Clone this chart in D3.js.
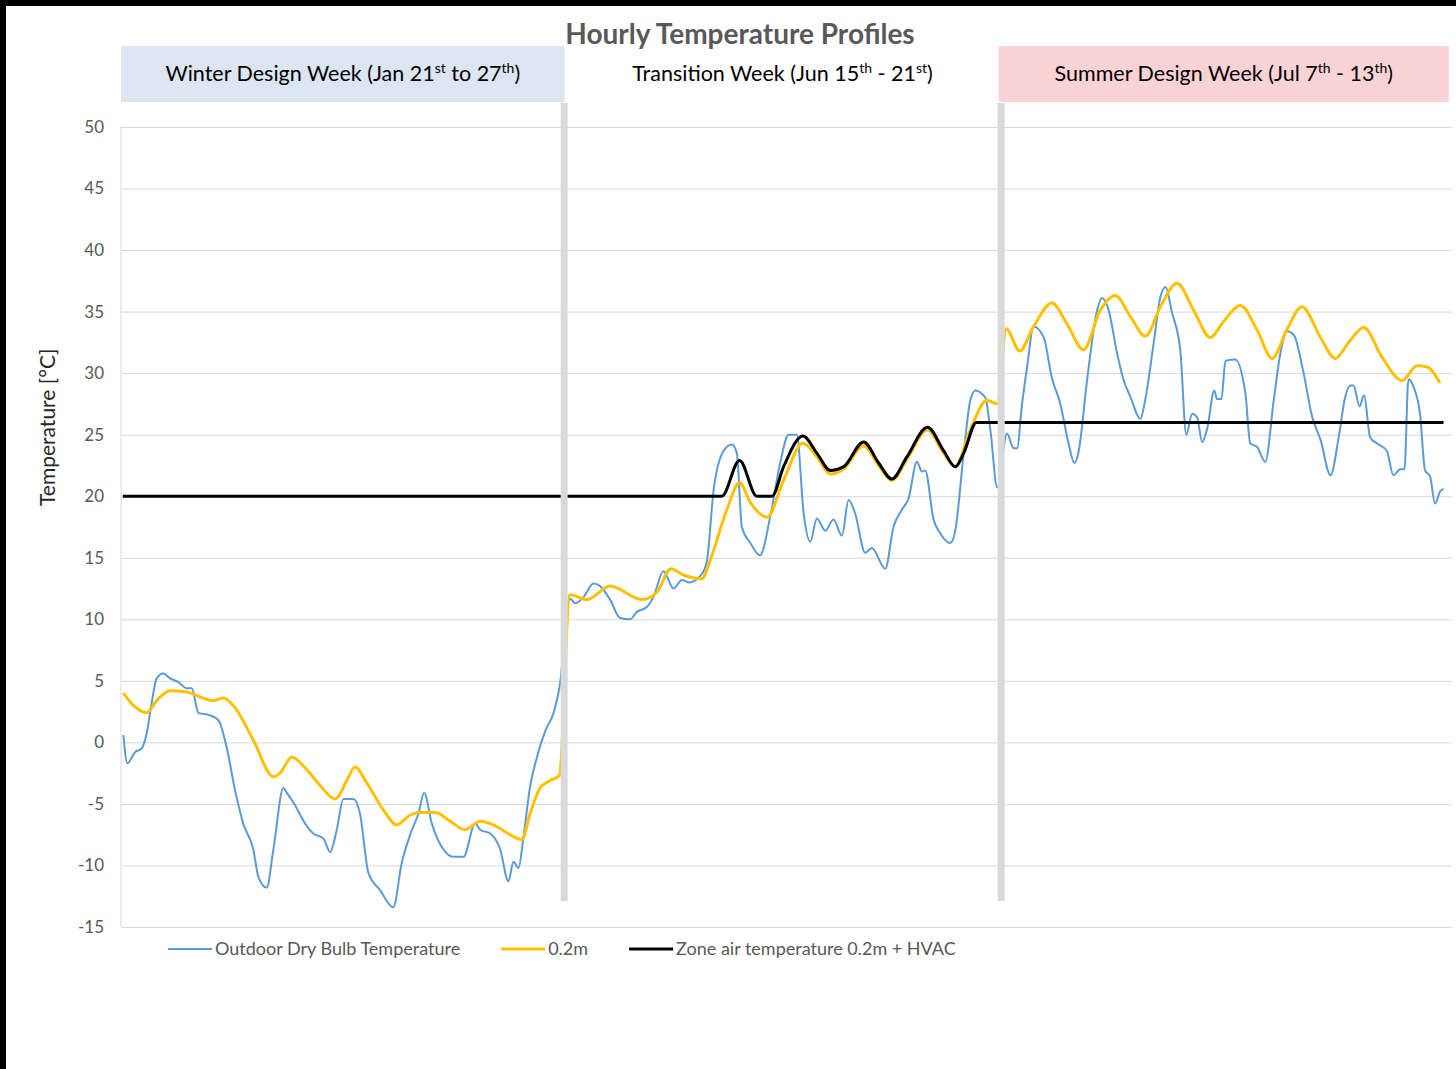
<!DOCTYPE html>
<html>
<head>
<meta charset="utf-8">
<script src="https://cdn.jsdelivr.net/npm/d3@7"></script>
<style>
  html, body { margin: 0; padding: 0; background: #fff; }
  svg { display: block; }
  text { font-family: Lato, "Liberation Sans Narrow", "Noto Sans", sans-serif; }
</style>
</head>
<body>
<div id="chart"></div>
<script>
// hours counted from the start of the winter week (3 weeks x 168 h)
const outdoorDryBulb = [
  [0.9,0.6],[2.4,-1.7],[5.3,-0.8],[7.8,-0.5],[9.7,0.7],[11.6,3.2],[13.5,5.2],[16,5.6],[18.6,5.2],[21.7,4.9],
  [24.9,4.4],[26.8,4.4],[29.3,2.4],[33.7,2.2],[36.9,1.8],[40,-0.4],[43.2,-3.9],[46.3,-6.6],[50.1,-8.7],[52,-10.9],
  [55.2,-11.8],[57.7,-8.7],[61.5,-3.7],[62.8,-4.1],[65.9,-5.1],[69.7,-6.6],[72.8,-7.4],[76.6,-7.8],[79.2,-8.9],[81.7,-7.1],
  [84.2,-4.6],[88,-4.6],[90.5,-5.8],[93.7,-10.6],[98.1,-12.0],[103.1,-13.4],[106.3,-9.8],[109.5,-7.5],[112.6,-5.8],[114.8,-4.1],
  [117.7,-6.6],[122.1,-8.7],[125.9,-9.3],[129.7,-9.3],[134.1,-6.6],[136,-7.1],[139.8,-7.4],[143.6,-8.7],[146.7,-11.3],[148.6,-9.7],
  [150.5,-10.2],[152.4,-7.7],[154.9,-3.6],[157.5,-1.2],[160.6,0.9],[163.8,2.4],[166,4.4],
  [170,11.7],[172,11.3],[175.1,11.8],[178.9,12.9],[181.4,12.7],[185.2,11.6],[189,10.1],[192.8,10.0],[195.3,10.6],[199.1,11.0],
  [201.6,11.8],[205.4,13.9],[209.2,12.5],[212.4,13.2],[215,13.0],[220,13.7],[221.9,14.8],[224.4,20.5],[228.2,23.7],[231.3,24.2],
  [233.2,23.5],[235.1,17.5],[238.3,16.2],[242,15.2],[245.8,18.3],[249.6,22.7],[252.8,25.0],[255.9,25.0],[258.5,18.6],[261,16.3],
  [263.5,18.2],[266.7,17.2],[269.8,18.1],[273,16.8],[275.5,19.7],[278,18.6],[281.8,15.4],[284.3,15.8],[289.4,14.1],[292.5,17.5],
  [295.7,18.9],[298.2,19.8],[301.4,22.8],[303.3,22.0],[304.5,22.1],[307.7,18.1],[310.2,17.0],[314,16.2],[315.9,17.2],[319.1,23.5],
  [321.6,27.8],[323.5,28.6],[327.3,28.0],[329.2,25.4],[331.8,20.7],
  [335.5,25.1],[338,23.9],[339.3,23.9],[341.2,27.5],[343.1,30.5],[345.6,33.8],[349.4,32.9],[352.5,29.6],[355.7,27.5],[358.8,24.3],
  [361,22.7],[362.6,23.6],[365.8,29.4],[369.6,35.1],[371.5,36.1],[374,35.1],[377.2,31.6],[379.7,29.4],[382.2,28.1],[386,26.3],
  [387.9,27.9],[391,32.4],[393.6,36.2],[395.5,37.0],[398,34.9],[401.1,31.9],[403.4,25.0],[405.6,26.7],[407.5,26.4],[409.4,24.4],
  [411.3,25.5],[414,28.6],[415,27.9],[416.7,27.9],[418.2,31.0],[421.9,31.1],[425.8,28.3],[427.6,24.3],[430.2,24.0],[433.3,22.8],
  [436.5,27.8],[439,31.6],[441.6,33.4],[444.1,33.1],[447.8,30.0],[451,26.5],[454.2,24.6],[458,21.7],[461.1,24.8],[463.6,28.1],
  [465.5,29.0],[466.7,29.0],[469,27.3],[470.7,28.2],[473,24.8],[475.5,24.3],[479.3,23.7],[481.8,21.7],[484.4,22.2],[486,22.2],
  [487.5,29.5],[489.4,28.9],[491.9,26.7],[493.8,22.1],[495.7,21.6],[497.6,19.4],[499.5,20.4],[500.8,20.6]
];

const zone02m = [
  [0.9,4.0],[4.7,3.0],[9.7,2.4],[13.5,3.4],[18.6,4.2],[24.9,4.1],[29.9,3.7],[35,3.4],[38.8,3.6],[42.5,3.0],
  [50.1,0.2],[57.7,-2.8],[60.2,-2.5],[64.7,-1.2],[70.3,-2.2],[75.4,-3.5],[81.1,-4.6],[85.5,-3.1],[88.6,-2.0],[93.1,-3.3],
  [99.4,-5.5],[104.4,-6.7],[109.5,-5.9],[113.3,-5.7],[119,-5.7],[124.6,-6.4],[130.3,-7.1],[136,-6.4],[141,-6.7],[147.3,-7.5],
  [151.8,-7.9],[154.9,-5.8],[158.7,-3.7],[162.5,-3.1],[166,-2.7],
  [170,12.0],[176.4,11.6],[185.2,12.7],[197.2,11.6],[202.9,12.2],[208.2,14.1],[213,13.6],[220,13.3],[223.1,14.8],[229.4,18.9],
  [234.2,21.1],[238.3,19.5],[244.6,18.3],[250.9,21.3],[258.2,24.3],[263.5,23.2],[268.6,21.8],[273.6,22.2],[281.2,24.1],[286.9,22.5],
  [291.9,21.3],[297.6,23.0],[305.4,25.4],[311.5,23.5],[315.9,22.4],[321.6,25.4],[327.9,27.8],[331.8,27.5],
  [335.2,33.6],[340.3,31.8],[345.6,33.8],[352.5,35.7],[358.2,34.0],[364.5,31.9],[370.8,35.1],[376.5,36.3],[382.2,34.6],[387.9,33.0],
  [393.6,35.4],[399.9,37.3],[406.2,35.1],[412.5,32.9],[417.5,34.2],[423.9,35.5],[430.2,33.5],[435.9,31.2],[441.6,33.6],[447.2,35.4],
  [454.2,32.9],[459.8,31.2],[464.9,32.5],[470.6,33.7],[477.5,31.3],[485.1,29.4],[490.8,30.6],[494.6,30.5],[499.4,29.2]
];

const zoneHvac = [
  [0.7,20],[227.5,20],[234.2,22.9],[240.8,20],[246.5,20],[250.9,22.4],[258.2,24.9],[263.5,23.5],[268.6,22.1],[273.6,22.4],
  [281.2,24.4],[286.9,22.7],[291.9,21.4],[297.6,23.2],[305.4,25.6],[311.5,23.7],[315.9,22.4],[319.1,23.5],[323.9,26.0],[500.8,26]
];

const weekBreaks = [167.8, 333.3];
const yTicks = [-15, -10, -5, 0, 5, 10, 15, 20, 25, 30, 35, 40, 45, 50];

const weekHeaders = [
  { from: 0, to: 168, fill: '#dce6f2', parts: [['Winter Design Week (Jan 21'], ['st', 1], [' to 27'], ['th', 1], [')']] },
  { from: 168, to: 333, fill: null, parts: [['Transition Week (Jun 15'], ['th', 1], [' - 21'], ['st', 1], [')']] },
  { from: 332.4, to: 502.8, fill: '#fbd3d5', parts: [['Summer Design Week (Jul 7'], ['th', 1], [' - 13'], ['th', 1], [')']] }
];

const series = [
  { name: 'Outdoor Dry Bulb Temperature', data: outdoorDryBulb, color: '#5b9bd5', width: 2 },
  { name: '0.2m', data: zone02m, color: '#ffc000', width: 3 },
  { name: 'Zone air temperature 0.2m + HVAC', data: zoneHvac, color: '#000000', width: 3 }
];

const W = 1456, H = 1069;
const margin = { left: 121, right: 4, top: 127, bottom: 142 };

const svg = d3.select('#chart').append('svg')
  .attr('width', W)
  .attr('height', H);

// dark frame left/top as in the screenshot
svg.append('rect').attr('x', 0).attr('y', 0).attr('width', W).attr('height', 6).attr('fill', '#000');
svg.append('rect').attr('x', 0).attr('y', 0).attr('width', 6).attr('height', H).attr('fill', '#000');

const x = d3.scaleLinear().domain([0, 504]).range([margin.left, W - margin.right]);
const y = d3.scaleLinear().domain([-15, 50]).range([H - margin.bottom, margin.top]);

// gridlines
svg.append('g')
  .attr('transform', `translate(${margin.left},0)`)
  .call(d3.axisLeft(y).tickValues(yTicks).tickSize(-(x.range()[1] - margin.left)).tickFormat(''))
  .call(g => g.select('.domain').remove())
  .call(g => g.selectAll('line').attr('stroke', '#d9d9d9').attr('stroke-width', 1));

// y axis line and labels
svg.append('line')
  .attr('x1', margin.left).attr('x2', margin.left)
  .attr('y1', y(50)).attr('y2', y(-15))
  .attr('stroke', '#d9d9d9');

svg.append('g')
  .attr('transform', `translate(${margin.left},0)`)
  .call(d3.axisLeft(y).tickValues(yTicks).tickSize(0).tickPadding(17).tickFormat(d => String(d)))
  .call(g => g.select('.domain').remove())
  .call(g => g.selectAll('text')
    .attr('fill', '#595959')
    .style('font-size', '17px'));

svg.append('text')
  .attr('transform', `translate(55,${y(25.6)}) rotate(-90)`)
  .attr('text-anchor', 'middle')
  .attr('fill', '#262626')
  .style('font-size', '21px')
  .text('Temperature [°C]');

// title
svg.append('text')
  .attr('x', 740)
  .attr('y', 44)
  .attr('text-anchor', 'middle')
  .attr('fill', '#595959')
  .style('font-size', '28px')
  .style('font-weight', 'bold')
  .text('Hourly Temperature Profiles');

// week header boxes
const headerTop = 46, headerH = 56;
weekHeaders.forEach(h => {
  const x0 = x(h.from), x1 = x(h.to);
  if (h.fill) {
    svg.append('rect')
      .attr('x', x0).attr('y', headerTop)
      .attr('width', x1 - x0).attr('height', headerH)
      .attr('fill', h.fill);
  }
  const t = svg.append('text')
    .attr('x', (x0 + x1) / 2)
    .attr('y', headerTop + 35)
    .attr('text-anchor', 'middle')
    .attr('fill', '#000')
    .style('font-size', '21.5px');
  let raised = false;
  h.parts.forEach(p => {
    const sp = t.append('tspan').text(p[0]);
    if (p[1] && !raised) { sp.attr('dy', -8).style('font-size', '14px'); raised = true; }
    else if (!p[1] && raised) { sp.attr('dy', 8); raised = false; }
  });
});

// series lines
const line = d3.line()
  .x(d => x(d[0]))
  .y(d => y(d[1]))
  .curve(d3.curveMonotoneX);

svg.append('g').selectAll('path')
  .data(series)
  .join('path')
  .attr('d', d => line(d.data))
  .attr('fill', 'none')
  .attr('stroke', d => d.color)
  .attr('stroke-width', d => d.width)
  .attr('stroke-linejoin', 'round');

// week separators
svg.append('g').selectAll('rect')
  .data(weekBreaks)
  .join('rect')
  .attr('x', d => x(d) - 3.5)
  .attr('y', 103)
  .attr('width', 7)
  .attr('height', 798)
  .attr('fill', '#d9d9d9');

// legend
const legend = svg.append('g').attr('transform', 'translate(168,949)');
let lx = 0;
series.forEach(s => {
  legend.append('line')
    .attr('x1', lx).attr('x2', lx + 44)
    .attr('y1', 0).attr('y2', 0)
    .attr('stroke', s.color)
    .attr('stroke-width', s.width);
  const t = legend.append('text')
    .attr('x', lx + 47)
    .attr('y', 6)
    .attr('fill', '#595959')
    .style('font-size', '18px')
    .text(s.name);
  lx += 47 + t.node().getComputedTextLength() + 41;
});
</script>
</body>
</html>
